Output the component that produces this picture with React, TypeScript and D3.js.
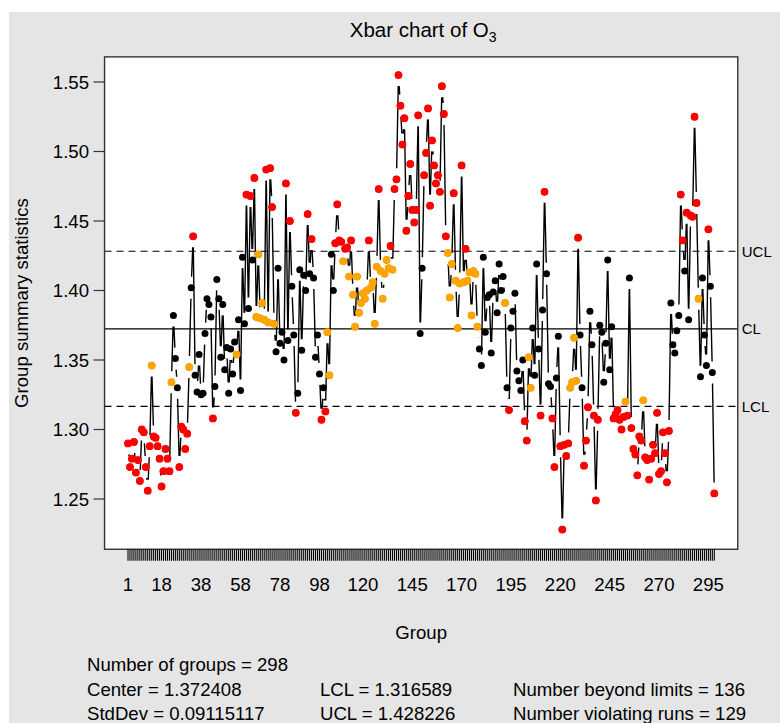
import React from 'react'
import { scaleLinear, range } from 'd3'

// group means (Xbar) of O3, groups 1..298
const xbar = [
  1.290, 1.273, 1.279, 1.291, 1.269, 1.278, 1.263, 1.300, 1.298, 1.273,
  1.256, 1.288, 1.346, 1.295, 1.294, 1.288, 1.279, 1.259, 1.270, 1.286,
  1.279, 1.270, 1.334, 1.382, 1.351, 1.330, 1.273, 1.302, 1.300, 1.286,
  1.297, 1.345, 1.402, 1.439, 1.339, 1.327, 1.354, 1.325, 1.326, 1.369,
  1.394, 1.390, 1.381, 1.308, 1.331, 1.408, 1.394, 1.352, 1.390, 1.343,
  1.359, 1.326, 1.358, 1.340, 1.363, 1.354, 1.379, 1.328, 1.424, 1.376,
  1.469, 1.387, 1.468, 1.422, 1.481, 1.381, 1.426, 1.380, 1.391, 1.379,
  1.487, 1.377, 1.488, 1.460, 1.376, 1.356, 1.416, 1.362, 1.370, 1.350,
  1.477, 1.364, 1.450, 1.403, 1.368, 1.312, 1.326, 1.415, 1.357, 1.411,
  1.400, 1.455, 1.412, 1.437, 1.409, 1.352, 1.368, 1.340, 1.307, 1.330,
  1.313, 1.370, 1.339, 1.426, 1.400, 1.434, 1.462, 1.436, 1.435, 1.421,
  1.430, 1.431, 1.410, 1.436, 1.397, 1.374, 1.410, 1.384, 1.391, 1.398,
  1.394, 1.400, 1.436, 1.402, 1.406, 1.376, 1.417, 1.473, 1.414, 1.394,
  1.412, 1.422, 1.416, 1.432, 1.415, 1.473, 1.480, 1.555, 1.533, 1.505,
  1.524, 1.443, 1.468, 1.491, 1.458, 1.449, 1.458, 1.526, 1.369, 1.416,
  1.483, 1.499, 1.531, 1.461, 1.508, 1.490, 1.477, 1.483, 1.471, 1.547,
  1.527, 1.439, 1.427, 1.395, 1.419, 1.470, 1.407, 1.373, 1.405, 1.490,
  1.406, 1.430, 1.407, 1.413, 1.382, 1.414, 1.412, 1.374, 1.358, 1.346,
  1.424, 1.370, 1.395, 1.397, 1.355, 1.399, 1.407, 1.384, 1.419, 1.400,
  1.410, 1.391, 1.330, 1.314, 1.373, 1.385, 1.398, 1.342, 1.335, 1.328,
  1.350, 1.306, 1.292, 1.352, 1.330, 1.373, 1.339, 1.419, 1.358, 1.310,
  1.386, 1.471, 1.412, 1.333, 1.331, 1.308, 1.273, 1.337, 1.367, 1.288,
  1.228, 1.289, 1.281, 1.290, 1.330, 1.334, 1.366, 1.335, 1.438, 1.368,
  1.330, 1.274, 1.292, 1.316, 1.385, 1.361, 1.310, 1.249, 1.307, 1.375,
  1.370, 1.334, 1.362, 1.422, 1.343, 1.374, 1.308, 1.311, 1.314, 1.307,
  1.300, 1.309, 1.320, 1.310, 1.409, 1.301, 1.286, 1.282, 1.267, 1.295,
  1.292, 1.321, 1.280, 1.278, 1.264, 1.279, 1.289, 1.283, 1.312, 1.268,
  1.270, 1.298, 1.283, 1.262, 1.299, 1.391, 1.361, 1.355, 1.371, 1.382,
  1.469, 1.436, 1.414, 1.456, 1.379, 1.454, 1.453, 1.525, 1.463, 1.394,
  1.338, 1.409, 1.368, 1.346, 1.444, 1.403, 1.341, 1.254,
]

const center = 1.372408
const lcl = 1.316589
const ucl = 1.428226
const stdDevText = '0.09115117'
const beyondText = '136'
const runsText = '129'
const runLength = 7

const xTickGroups = [1, 18, 38, 58, 78, 98, 120, 145, 170, 195, 220, 245, 270, 295]
const yTicks = [1.25, 1.3, 1.35, 1.4, 1.45, 1.5, 1.55]

const font = 'Liberation Sans, Arial, Helvetica, sans-serif'

// qcc style: the 7th point of a run on one side of the centre line onwards
function runViolators(vals: number[], cl: number, len: number) {
  const out = vals.map(() => false)
  let start = 0
  for (let i = 0; i <= vals.length; i++) {
    const s = i < vals.length ? Math.sign(vals[i] - cl) : NaN
    const prev = Math.sign(vals[start] - cl)
    if (i === vals.length || s !== prev) {
      if (i - start >= len) for (let j = start + len - 1; j < i; j++) out[j] = true
      start = i
    }
  }
  return out
}

const App = () => {
  const W = 780
  const H = 723
  const n = xbar.length
  const groups = range(1, n + 1)

  const x = scaleLinear().domain([1, n]).range([128, 714.3])
  const y = scaleLinear().domain([1.25, 1.55]).range([499, 82])

  // R style 4% axis extension
  const xPad = (n - 1) * 0.04
  const lo = Math.min(...xbar, lcl)
  const hi = Math.max(...xbar, ucl)
  const yPad = (hi - lo) * 0.04
  const bx0 = x(1 - xPad)
  const bx1 = x(n + xPad)
  const by0 = y(hi + yPad)
  const by1 = y(lo - yPad) + 1.5

  const runs = runViolators(xbar, center, runLength)
  const beyond = xbar.map(v => v > ucl || v < lcl)

  // type = "b": segments cut back around each point
  const gap = 11
  const segs: string[] = []
  for (let i = 1; i < n; i++) {
    const x0 = x(i), y0 = y(xbar[i - 1])
    const x1 = x(i + 1), y1 = y(xbar[i])
    const d = Math.hypot(x1 - x0, y1 - y0)
    if (d <= 2 * gap) continue
    const f = gap / d
    segs.push(`M${x0 + f * (x1 - x0)},${y0 + f * (y1 - y0)}L${x1 - f * (x1 - x0)},${y1 - f * (y1 - y0)}`)
  }

  const r = 3.9
  const limitLines = [
    { v: ucl, label: 'UCL', dash: '7,5' },
    { v: center, label: 'CL', dash: null },
    { v: lcl, label: 'LCL', dash: '7,5' },
  ]

  const statsRows = [
    [`Number of groups = ${n}`, '', ''],
    [`Center = ${center}`, `LCL = ${lcl}`, `Number beyond limits = ${beyondText}`],
    [`StdDev = ${stdDevText}`, `UCL = ${ucl}`, `Number violating runs = ${runsText}`],
  ]
  const statCols = [87, 320, 513]

  return (
    <svg width={W} height={H} style={{ position: 'absolute', left: 0, top: 0, display: 'block' }}
      fontFamily={font}>
      <rect x={0} y={0} width={W} height={H} fill="#ffffff" />
      <rect x={9} y={12} width={W - 9} height={H - 12} fill="#e5e5e5" />

      <text x={(bx0 + bx1) / 2 + 2} y={37} textAnchor="middle" fontSize={20.5} fill="#000">
        Xbar chart of O<tspan fontSize={14} dy={5}>3</tspan>
      </text>

      <rect x={bx0} y={by0} width={bx1 - bx0} height={by1 - by0} fill="#fff" />

      {limitLines.map(l => (
        <g key={l.label}>
          <line x1={bx0} x2={bx1} y1={y(l.v)} y2={y(l.v)} stroke="#000" strokeWidth={1.2}
            strokeDasharray={l.dash ?? undefined} />
          <text x={bx1 + 4} y={y(l.v)} dy="0.35em" fontSize={15} fill="#000">{l.label}</text>
        </g>
      ))}

      <path d={segs.join('')} stroke="#000" strokeWidth={1.4} fill="none" />

      {groups.map((g, i) => (
        <circle key={'b' + g} cx={x(g)} cy={y(xbar[i])} r={r - 0.4} fill="#000" />
      ))}
      {groups.filter((g, i) => runs[i] && !beyond[i]).map(g => (
        <circle key={'o' + g} cx={x(g)} cy={y(xbar[g - 1])} r={r} fill="orange" />
      ))}
      {groups.filter((g, i) => beyond[i]).map(g => (
        <circle key={'r' + g} cx={x(g)} cy={y(xbar[g - 1])} r={r} fill="red" />
      ))}

      <rect x={bx0} y={by0} width={bx1 - bx0} height={by1 - by0} fill="none" stroke="#333" strokeWidth={1.4} />

      {/* y axis */}
      {yTicks.map(t => (
        <g key={t}>
          <line x1={bx0 - 11} x2={bx0} y1={y(t)} y2={y(t)} stroke="#333" strokeWidth={1.2} />
          <text x={89} y={y(t)} dy="0.35em" textAnchor="end" fontSize={18.6} fill="#000">{t.toFixed(2)}</text>
        </g>
      ))}
      <text transform={`translate(28,${(by0 + by1) / 2}) rotate(-90)`} textAnchor="middle" fontSize={18.6} fill="#000">
        Group summary statistics
      </text>

      {/* x axis: a tick per group */}
      {groups.map(g => (
        <line key={'t' + g} x1={x(g)} x2={x(g)} y1={by1} y2={by1 + 11.5} stroke="#000" strokeWidth={1.1} />
      ))}
      {xTickGroups.map(g => (
        <text key={'l' + g} x={x(g)} y={591} textAnchor="middle" fontSize={18.6} fill="#000">{g}</text>
      ))}
      <text x={(bx0 + bx1) / 2} y={639} textAnchor="middle" fontSize={18.6} fill="#000">Group</text>

      {statsRows.map((row, ri) => row.map((s, ci) => s ? (
        <text key={ri + '-' + ci} x={statCols[ci]} y={671 + ri * 24.5} fontSize={18.6} fill="#000">{s}</text>
      ) : null))}
    </svg>
  )
}

export default App
